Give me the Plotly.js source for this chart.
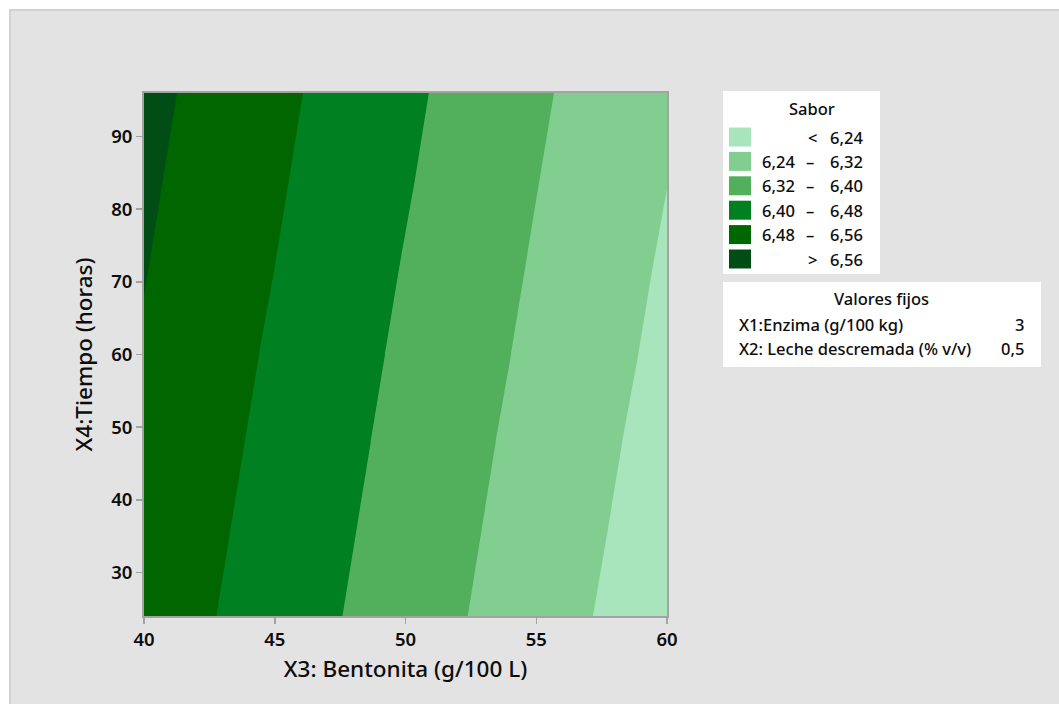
<!DOCTYPE html>
<html>
<head>
<meta charset="utf-8">
<script src="https://cdn.plot.ly/plotly-3.0.1.min.js"></script>
<style>
  html, body { margin: 0; padding: 0; background: #ffffff; }
  #frame {
    position: absolute; left: 9px; top: 9px; width: 1050px; height: 695px;
    background: #e3e3e3; border-top: 2px solid #d2d2d2; border-left: 2px solid #d2d2d2;
    box-sizing: border-box;
  }
  #chart { position: absolute; left: 0; top: 0; width: 1059px; height: 704px; }
</style>
</head>
<body>
<div id="frame"></div>
<div id="chart"></div>
<script>
// Bentonita (g/100 L) grid points
const bentonita = [40, 45, 50, 55, 60];
// Tiempo (horas) grid points
const tiempo = [24, 36, 48, 60, 72, 84, 96];
// Sabor response, one row per tiempo value
const sabor = [
  [6.526, 6.443, 6.360, 6.276, 6.193],
  [6.535, 6.452, 6.369, 6.285, 6.203],
  [6.544, 6.461, 6.378, 6.294, 6.212],
  [6.554, 6.470, 6.387, 6.304, 6.222],
  [6.563, 6.480, 6.396, 6.313, 6.231],
  [6.572, 6.489, 6.406, 6.322, 6.241],
  [6.581, 6.498, 6.415, 6.331, 6.250]
];
// Contour levels and band colours (lowest band first)
const levels = [6.24, 6.32, 6.40, 6.48, 6.56];
const bandColors = ['#a8e5bd', '#82ce90', '#52b05c', '#008020', '#006700', '#004d16'];
// Axis ticks
const xTicks = [40, 45, 50, 55, 60];
const yTicks = [30, 40, 50, 60, 70, 80, 90];
// Fixed factor settings
const fixedLabels = ['X1:Enzima (g/100 kg)', 'X2: Leche descremada (% v/v)'];
const fixedValues = ['3', '0,5'];

// Plot area geometry in pixels
const L = 144, T = 93, W = 523, H = 523;
const FW = 1059, FH = 704;
const px = v => (v - L) / W;
const py = v => (T + H - v) / H;

const FONT = '"Noto Sans", "Open Sans", sans-serif';
const ink = '#0d0d0d';
const fmt = v => v.toFixed(2).replace('.', ',');
const legFont = { family: FONT, size: 16.5, color: ink, weight: 500 };

const step = levels[1] - levels[0];
const colorscale = bandColors.map((c, i) => [i / (bandColors.length - 1), c]);

const trace = {
  type: 'contour',
  x: bentonita,
  y: tiempo,
  z: sabor,
  autocontour: false,
  contours: {
    start: levels[0],
    end: levels[levels.length - 1],
    size: step,
    coloring: 'fill',
    showlines: false
  },
  line: { width: 0, smoothing: 0 },
  colorscale: colorscale,
  showscale: false,
  hoverinfo: 'skip'
};

const shapes = [];
const annotations = [];

// Sabor legend box
shapes.push({
  type: 'rect', xref: 'paper', yref: 'paper',
  x0: px(723), x1: px(880), y0: py(91), y1: py(274),
  fillcolor: '#ffffff', line: { width: 0 }, layer: 'above'
});
annotations.push({
  xref: 'paper', yref: 'paper', x: px(812), y: py(109),
  text: 'Sabor', showarrow: false, xanchor: 'center', yanchor: 'middle',
  font: legFont
});

const rowY0 = 137, rowStep = 24.4;
bandColors.forEach((c, i) => {
  const yc = rowY0 + rowStep * i;
  shapes.push({
    type: 'rect', xref: 'paper', yref: 'paper',
    x0: px(729), x1: px(751), y0: py(yc - 9.5), y1: py(yc + 9.5),
    fillcolor: c, line: { width: 0 }, layer: 'above'
  });
  const lbl = { font: legFont, showarrow: false,
                xref: 'paper', yref: 'paper', yanchor: 'middle', y: py(yc) };
  if (i === 0) {
    annotations.push(Object.assign({}, lbl, { x: px(819), xanchor: 'right', text: '<' }));
    annotations.push(Object.assign({}, lbl, { x: px(865), xanchor: 'right', text: fmt(levels[0]) }));
  } else if (i === bandColors.length - 1) {
    annotations.push(Object.assign({}, lbl, { x: px(819), xanchor: 'right', text: '>' }));
    annotations.push(Object.assign({}, lbl, { x: px(865), xanchor: 'right', text: fmt(levels[levels.length - 1]) }));
  } else {
    annotations.push(Object.assign({}, lbl, { x: px(797), xanchor: 'right', text: fmt(levels[i - 1]) }));
    annotations.push(Object.assign({}, lbl, { x: px(810), xanchor: 'center', text: '–' }));
    annotations.push(Object.assign({}, lbl, { x: px(865), xanchor: 'right', text: fmt(levels[i]) }));
  }
});

// Fixed values box
shapes.push({
  type: 'rect', xref: 'paper', yref: 'paper',
  x0: px(723), x1: px(1041), y0: py(282), y1: py(367),
  fillcolor: '#ffffff', line: { width: 0 }, layer: 'above'
});
annotations.push({
  xref: 'paper', yref: 'paper', x: px(881), y: py(298),
  text: 'Valores fijos', showarrow: false, xanchor: 'center', yanchor: 'middle',
  font: legFont
});
fixedLabels.forEach((t, i) => {
  const yc = 324 + 24 * i;
  annotations.push({
    xref: 'paper', yref: 'paper', x: px(737), y: py(yc), text: t,
    showarrow: false, xanchor: 'left', yanchor: 'middle',
    font: legFont
  });
  annotations.push({
    xref: 'paper', yref: 'paper', x: px(1026), y: py(yc), text: fixedValues[i],
    showarrow: false, xanchor: 'right', yanchor: 'middle',
    font: legFont
  });
});

const axisCommon = {
  showgrid: false, zeroline: false,
  showline: true, mirror: true, linecolor: '#a3a3a3', linewidth: 2,
  ticks: 'outside', ticklen: 6, tickwidth: 1.5, tickcolor: '#a3a3a3',
  tickfont: { family: FONT, size: 18.5, color: ink, weight: 600 },
  automargin: false
};

const layout = {
  width: FW, height: FH,
  margin: { l: L, t: T, r: FW - L - W, b: FH - T - H, pad: 0 },
  paper_bgcolor: 'rgba(0,0,0,0)',
  plot_bgcolor: '#ffffff',
  showlegend: false,
  xaxis: Object.assign({}, axisCommon, {
    range: [40, 60], tickvals: xTicks, ticktext: xTicks.map(String),
    title: { text: 'X3: Bentonita (g/100 L)', font: { family: FONT, size: 22.5, color: ink, weight: 500 }, standoff: 11 }
  }),
  yaxis: Object.assign({}, axisCommon, {
    range: [24, 96], tickvals: yTicks, ticktext: yTicks.map(String),
    title: { text: 'X4:Tiempo (horas)', font: { family: FONT, size: 22.5, color: ink, weight: 500 }, standoff: 12 }
  }),
  shapes: shapes,
  annotations: annotations
};

Plotly.newPlot('chart', [trace], layout, { staticPlot: true, displayModeBar: false });
</script>
</body>
</html>
